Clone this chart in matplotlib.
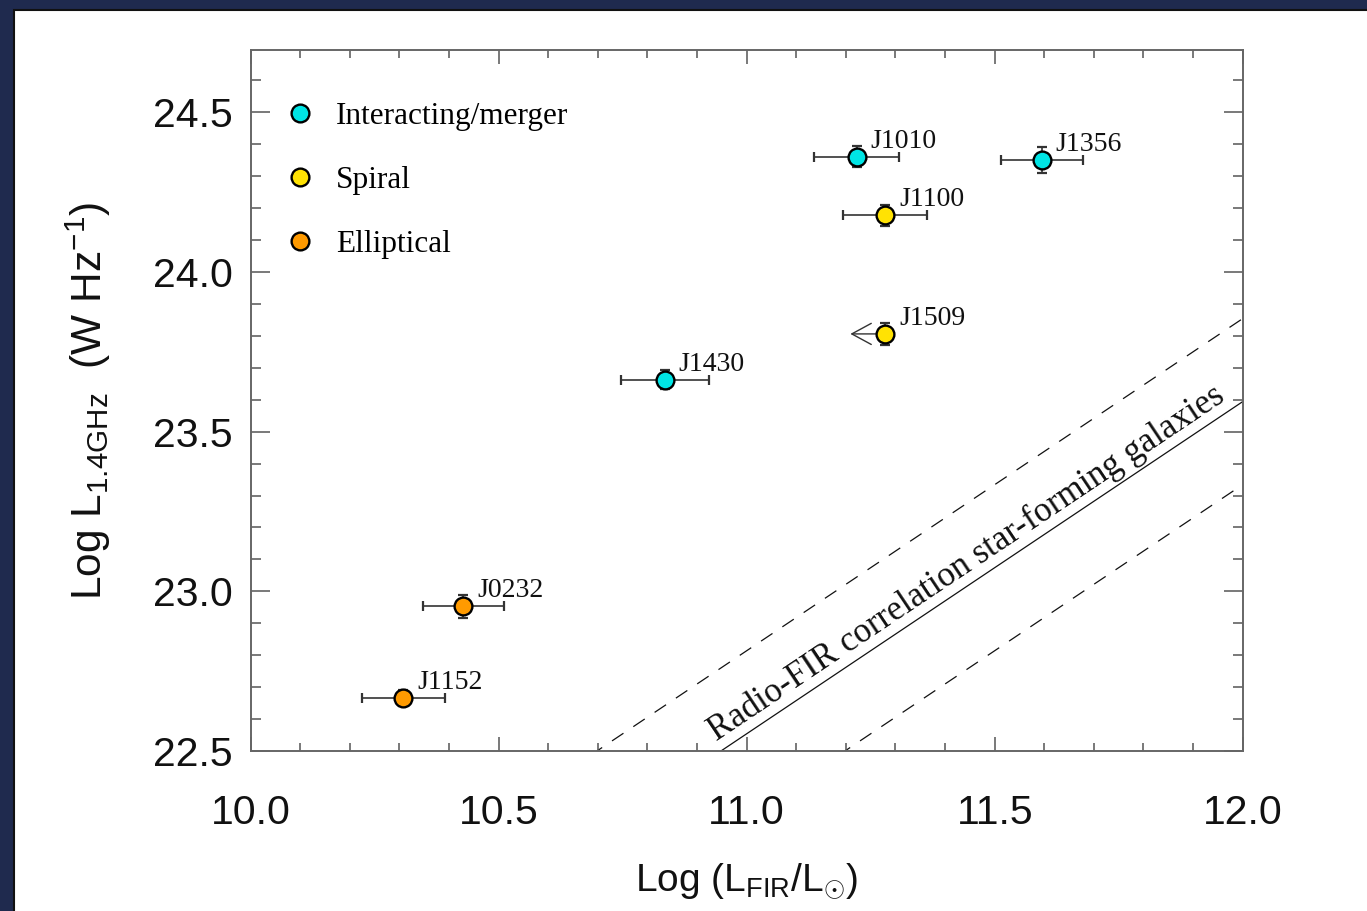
import numpy as np
import matplotlib.pyplot as plt
import matplotlib.transforms as mtransforms
from matplotlib.lines import Line2D
from matplotlib.patches import Rectangle

plt.rcParams['font.family'] = ['Liberation Sans', 'DejaVu Sans']
plt.rcParams['mathtext.fontset'] = 'custom'
plt.rcParams['mathtext.rm'] = 'Liberation Sans'
plt.rcParams['mathtext.it'] = 'Liberation Sans:italic'
plt.rcParams['mathtext.bf'] = 'Liberation Sans:bold'
SERIF = ['Liberation Serif', 'DejaVu Serif']

# --------- sources ---------
names = ['J1010', 'J1356', 'J1100', 'J1509', 'J1430', 'J0232', 'J1152']
morph = ['Interacting/merger', 'Interacting/merger', 'Spiral', 'Spiral',
         'Interacting/merger', 'Elliptical', 'Elliptical']
log_lfir = [11.222, 11.595, 11.279, 11.279, 10.835, 10.429, 10.308]
log_lfir_err = [0.086, 0.083, 0.085, 0.0, 0.089, 0.081, 0.083]
log_l14 = [24.361, 24.351, 24.177, 23.806, 23.663, 22.954, 22.666]
log_l14_err = [0.032, 0.040, 0.032, 0.035, 0.030, 0.036, 0.025]
fir_upper_limit = [False, False, False, True, False, False, False]
limit_length = 0.07

classes = ['Interacting/merger', 'Spiral', 'Elliptical']
class_colors = {'Interacting/merger': '#00E5E5',
                'Spiral': '#FFE203',
                'Elliptical': '#FF9A00'}

# radio-FIR relation for star-forming galaxies (pivot at log LFIR = 12)
rel_pivot = 12.0
rel_value = 23.594
rel_slope = 1.04
rel_scatter = 0.26

# --------- figure ---------
fig = plt.figure(figsize=(13.67, 9.11), dpi=100)
fig.patch.set_facecolor('#1f2a4e')
panel = Rectangle((14 / 1367, -0.05), 1.1, 1.05 - 10 / 911,
                  transform=fig.transFigure, facecolor='white',
                  edgecolor='#111111', lw=1.5, zorder=0)
fig.add_artist(panel)

ax = fig.add_axes([250.7 / 1367, 160 / 911, 992 / 1367, 701 / 911])
ax.set_xlim(10.0, 12.0)
ax.set_ylim(22.5, 24.695)

# correlation line and +-scatter
xr = np.array([10.0, 12.0])
yr = rel_value + rel_slope * (xr - rel_pivot)
ax.plot(xr, yr, color='#111111', lw=0.9, zorder=1)
for sgn in (1, -1):
    ax.plot(xr, yr + sgn * rel_scatter, color='#111111', lw=0.9,
            dashes=(11, 9.5), zorder=1)

# correlation label along the line
x_txt = 11.465
y_txt = rel_value + rel_slope * (x_txt - rel_pivot)
trans = mtransforms.offset_copy(ax.transData, fig=fig, x=-4.2, y=6.3, units='points')
ax.text(x_txt, y_txt, 'Radio-FIR correlation star-forming galaxies',
        transform=trans, rotation=np.degrees(np.arctan(rel_slope)),
        transform_rotates_text=True, rotation_mode='anchor',
        ha='center', va='baseline', fontsize=25, family=SERIF, color='#111111')

# error bars, upper-limit arrows and markers
for i, name in enumerate(names):
    x, y = log_lfir[i], log_l14[i]
    xerr = None if fir_upper_limit[i] else log_lfir_err[i]
    ax.errorbar(x, y, xerr=xerr, yerr=log_l14_err[i], fmt='none',
                ecolor='#333333', elinewidth=1.2, capsize=3.8, capthick=1.6,
                zorder=2)
    if fir_upper_limit[i]:
        ax.annotate('', xy=(x - limit_length, y), xytext=(x, y),
                    arrowprops=dict(arrowstyle='->,head_length=0.7,head_width=0.38',
                                    color='#333333', lw=1.0, mutation_scale=20,
                                    shrinkA=0, shrinkB=0),
                    zorder=2)
    ax.plot(x, y, ls='none', marker='o', ms=12.8, mfc=class_colors[morph[i]],
            mec='black', mew=1.7, zorder=3)
    ax.annotate(name, xy=(x, y), xytext=(10, 6.5), textcoords='offset points',
                ha='left', va='baseline', fontsize=20, family=SERIF,
                color='#111111', zorder=4)

# legend
handles = [Line2D([], [], ls='none', marker='o', ms=12.8, mfc=class_colors[c],
                  mec='black', mew=1.7, label=c) for c in classes]
leg = ax.legend(handles=handles, loc='upper left', bbox_to_anchor=(0.034, 0.926),
                frameon=False, borderpad=0, borderaxespad=0, handlelength=1.0,
                handletextpad=0.64, labelspacing=1.12,
                prop={'family': SERIF, 'size': 22.5})

# axes styling
ax.set_xticks(np.arange(10.0, 12.01, 0.5))
ax.set_xticks(np.arange(10.0, 12.01, 0.1), minor=True)
ax.set_yticks(np.arange(22.5, 24.51, 0.5))
ax.set_yticks(np.arange(22.5, 24.7, 0.1), minor=True)
ax.xaxis.set_major_formatter(plt.FormatStrFormatter('%.1f'))
ax.yaxis.set_major_formatter(plt.FormatStrFormatter('%.1f'))
ax.tick_params(which='both', direction='in', top=True, right=True,
               color='#555555', width=1.1, labelsize=29.5, labelcolor='#111111')
ax.tick_params(axis='x', which='major', length=10, pad=31)
ax.tick_params(axis='x', which='minor', length=5.5)
ax.tick_params(axis='y', which='major', length=14, pad=13)
ax.tick_params(axis='y', which='minor', length=7)
for sp in ax.spines.values():
    sp.set_color('#666666')
    sp.set_linewidth(1.4)

ax.set_xlabel(r'Log (L$_{\mathrm{FIR}}$/L$_{\odot}$)', fontsize=28, color='#111111')
ax.set_ylabel(r'Log L$_{\mathrm{1.4GHz}}$  (W Hz$^{\mathrm{-1}}$)', fontsize=30.5,
              color='#111111')
ax.xaxis.set_label_coords(0.5, -0.158)
ax.yaxis.set_label_coords(-0.139, 0.5)

fig.savefig('out.png', dpi=100, facecolor=fig.get_facecolor())
